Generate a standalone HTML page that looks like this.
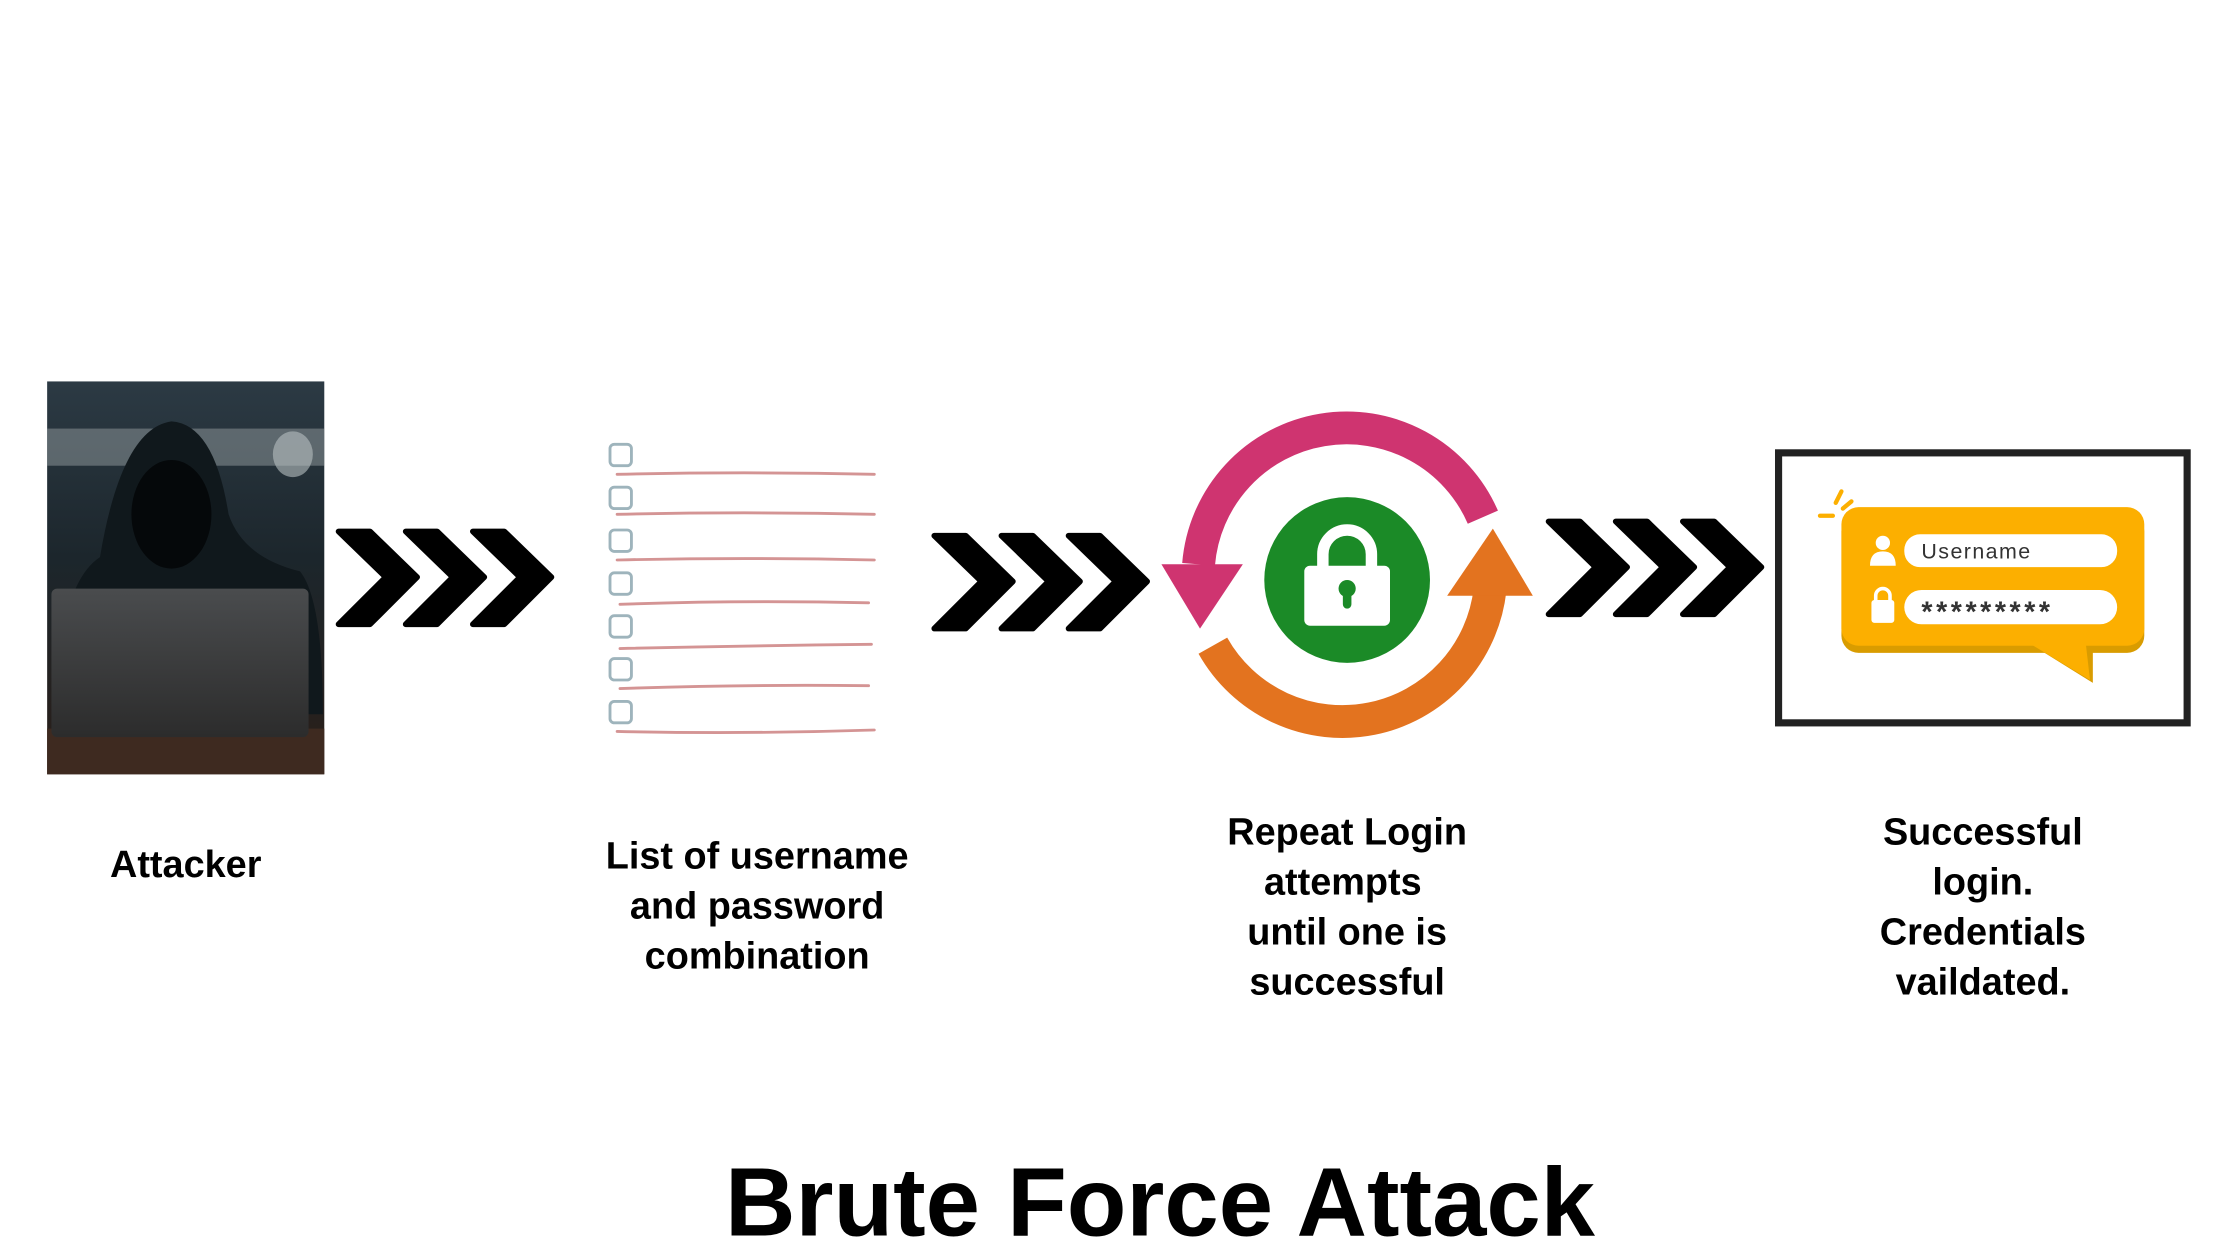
<!DOCTYPE html>
<html><head><meta charset="utf-8"><style>
html,body{margin:0;padding:0;background:#fff;width:2240px;height:1260px;overflow:hidden}
svg{display:block}
text{font-family:"Liberation Sans",sans-serif;font-weight:bold;fill:#000}
</style></head><body>
<svg width="2240" height="1260" viewBox="0 0 1568 882" xmlns="http://www.w3.org/2000/svg">
<defs>
<linearGradient id="bg" x1="0" y1="0" x2="0" y2="1">
<stop offset="0" stop-color="#2c3a44"/><stop offset="0.45" stop-color="#1c262c"/><stop offset="1" stop-color="#2a1e18"/>
</linearGradient>
<linearGradient id="lap" x1="0" y1="0" x2="0" y2="1">
<stop offset="0" stop-color="#4a4c4e"/><stop offset="1" stop-color="#2c2c2c"/>
</linearGradient>
<g id="chev"><polygon points="0,0 22,0 55,32 22,65 0,65 33,32" fill="#000" stroke="#000" stroke-width="4" stroke-linejoin="round"/></g>
</defs>

<rect x="33" y="267" width="194" height="275" fill="url(#bg)"/>
<rect x="33" y="300" width="194" height="26" fill="#8a9498" opacity="0.55"/>
<ellipse cx="205" cy="318" rx="14" ry="16" fill="#b8c0c2" opacity="0.6"/>
<rect x="33" y="510" width="194" height="32" fill="#3e2a20"/>
<path d="M70,390 Q85,300 120,295 Q150,297 160,360 Q170,390 210,400 Q226,420 226,500 L40,500 Q40,410 70,390 Z" fill="#10181c"/>
<ellipse cx="120" cy="360" rx="28" ry="38" fill="#05080a"/>
<rect x="36" y="412" width="180" height="104" rx="4" fill="url(#lap)"/>

<use href="#chev" x="237" y="372"/><use href="#chev" x="284" y="372"/><use href="#chev" x="331" y="372"/>

<g fill="none" stroke="#9eb4bc" stroke-width="2">
<rect x="427" y="311" width="15" height="15" rx="3"/><rect x="427" y="341" width="15" height="15" rx="3"/>
<rect x="427" y="371" width="15" height="15" rx="3"/><rect x="427" y="401" width="15" height="15" rx="3"/>
<rect x="427" y="431" width="15" height="15" rx="3"/><rect x="427" y="461" width="15" height="15" rx="3"/>
<rect x="427" y="491" width="15" height="15" rx="3"/>
</g>
<g fill="none" stroke="#d49494" stroke-width="2" stroke-linecap="round">
<path d="M432,332 Q520,330 612,332"/><path d="M432,360 Q520,358 612,360"/>
<path d="M432,392 Q520,390 612,392"/><path d="M434,423 Q520,420 608,422"/>
<path d="M434,454 Q520,452 610,451"/><path d="M434,482 Q520,479 608,480"/>
<path d="M432,512 Q520,514 612,511"/>
</g>

<use href="#chev" x="654" y="375"/><use href="#chev" x="701" y="375"/><use href="#chev" x="748" y="375"/>

<path d="M1038,362 A104,104 0 0 0 839,395" fill="none" stroke="#cf3470" stroke-width="23"/>
<polygon points="813,395 870,395 840,440" fill="#cf3470"/>
<path d="M849,452 A104,104 0 0 0 1043,413" fill="none" stroke="#e3731f" stroke-width="23"/>
<polygon points="1013,417 1073,417 1045,370" fill="#e3731f"/>
<circle cx="943" cy="406" r="58" fill="#1b8a27"/>
<path d="M926,398 L926,388 A17,17 0 0 1 960,388 L960,398" fill="none" stroke="#fff" stroke-width="8"/>
<rect x="913" y="396" width="60" height="42" rx="4" fill="#fff"/>
<circle cx="943" cy="412" r="6" fill="#1b8a27"/>
<rect x="940" y="412" width="6" height="14" rx="3" fill="#1b8a27"/>

<use href="#chev" x="1084" y="365"/><use href="#chev" x="1131" y="365"/><use href="#chev" x="1178" y="365"/>

<rect x="1245" y="317" width="286" height="189" fill="#fff" stroke="#222" stroke-width="5"/>
<polygon points="1420,450 1465,450 1465,478" fill="#d99c00"/>
<rect x="1289" y="360" width="212" height="97" rx="12" fill="#d99c00"/>
<rect x="1289" y="355" width="212" height="97" rx="12" fill="#fcaf00"/>
<path d="M1420,450 L1460,450 L1463,476 Z" fill="#fcaf00"/>
<g stroke="#fcaf00" stroke-width="3" stroke-linecap="round">
<line x1="1274" y1="361" x2="1283" y2="361"/><line x1="1285" y1="352" x2="1289" y2="344"/><line x1="1290" y1="356" x2="1296" y2="351"/>
</g>
<rect x="1333" y="374" width="149" height="23" rx="11" fill="#fff"/>
<rect x="1333" y="413" width="149" height="24" rx="12" fill="#fff"/>
<circle cx="1318" cy="380" r="5" fill="#fff"/>
<path d="M1309,396 Q1309,386 1318,386 Q1327,386 1327,396 Z" fill="#fff"/>
<path d="M1313,421 L1313,417 A5,5 0 0 1 1323,417 L1323,421" fill="none" stroke="#fff" stroke-width="2.5"/>
<rect x="1310" y="420" width="16" height="16" rx="2" fill="#fff"/>
<text x="1345" y="391" style="font-weight:normal;font-size:15px;fill:#333;letter-spacing:1px">Username</text>
<text x="1345" y="435" style="font-size:20px;fill:#333;letter-spacing:2.5px">*********</text>

<g font-size="26.5" text-anchor="middle">
<text x="130" y="614">Attacker</text>
<text x="530" y="608">List of username</text>
<text x="530" y="643">and password</text>
<text x="530" y="678">combination</text>
<text x="943" y="591">Repeat Login</text>
<text x="940" y="626">attempts</text>
<text x="943" y="661">until one is</text>
<text x="943" y="696">successful</text>
<text x="1388" y="591">Successful</text>
<text x="1388" y="626">login.</text>
<text x="1388" y="661">Credentials</text>
<text x="1388" y="696">vaildated.</text>
</g>
<text x="812" y="865" font-size="68" text-anchor="middle" textLength="609" lengthAdjust="spacingAndGlyphs">Brute Force Attack</text>
</svg>
</body></html>
